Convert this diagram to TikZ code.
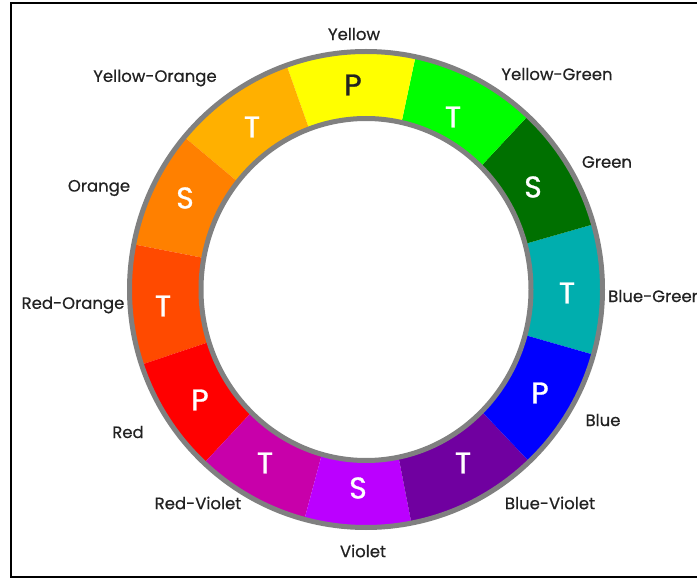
\documentclass[tikz,border=0pt]{standalone}
\usepackage{fontspec}
\setmainfont{Poppins}
\newfontfamily\letterfont[FakeBold=0.9]{Poppins}
\newfontfamily\namefont[FakeBold=0.5]{Poppins}
\definecolor{cBG}{HTML}{00AEAE}
\definecolor{cG}{HTML}{007000}
\definecolor{cYG}{HTML}{00FF00}
\definecolor{cY}{HTML}{FFFF00}
\definecolor{cYO}{HTML}{FFB000}
\definecolor{cO}{HTML}{FF8000}
\definecolor{cRO}{HTML}{FF4A00}
\definecolor{cR}{HTML}{FF0000}
\definecolor{cRV}{HTML}{C800AA}
\definecolor{cV}{HTML}{BB00FF}
\definecolor{cBV}{HTML}{7000A0}
\definecolor{cB}{HTML}{0000FF}
\definecolor{rim}{HTML}{808080}
\definecolor{ink}{HTML}{222222}
\begin{document}
\begin{tikzpicture}[x=1pt,y=1pt,
  letter/.style={text=white,font=\letterfont\fontsize{30}{32}\selectfont,inner sep=0pt},
  lbl/.style={text=ink,font=\namefont\fontsize{16.5}{18}\selectfont,inner sep=0pt},
  rimline/.style={draw=rim,line width=5pt}]
\useasboundingbox (0,0) rectangle (697,-580);
\clip (0,0) rectangle (697,-580);
\fill[white] (0,0) rectangle (697,-580);
% frame
\draw[line width=2pt] (11,-3) rectangle (705,-577);
\coordinate (C) at (366,-289.5);
% colour sectors of the ring
\begin{scope}
  \clip (C) ellipse [x radius=237, y radius=238.5];
  \foreach \a/\b/\c in {-16/16/cBG, 16/47/cG, 47/78/cYG, 78/109.5/cY,
      109.5/140/cYO, 140/169/cO, 169/198.5/cRO, 198.5/227/cR,
      227/255/cRV, 255/281/cV, 281/313.5/cBV, 313.5/344/cB}
    \fill[\c] (C) -- ++(\a:320) arc[start angle=\a, end angle=\b, radius=320] -- cycle;
\end{scope}
% white centre and grey rims
\fill[white] (C) ellipse [x radius=165, y radius=171];
\draw[rimline] (C) ellipse [x radius=236.5, y radius=238];
\draw[rimline] (C) ellipse [x radius=165, y radius=171];
% letters in the segments
\node[letter,text=ink] (pY) at (353,-85) {P};
\node[letter] (tYG) at (453,-117) {T};
\node[letter] (sG) at (533,-187) {S};
\node[letter] (tBG) at (567,-293) {T};
\node[letter] (pB) at (540,-393) {P};
\node[letter] (tBV) at (463,-463) {T};
\node[letter] (sV) at (358,-488) {S};
\node[letter] (tRV) at (265,-463) {T};
\node[letter] (pR) at (200,-400) {P};
\node[letter] (tRO) at (163,-306) {T};
\node[letter] (sO) at (185,-198) {S};
\node[letter] (tYO) at (252,-127) {T};
% colour names
\node[lbl] (lY) at (354,-34) {Yellow};
\node[lbl] (lYG) at (557,-74) {Yellow-Green};
\node[lbl] (lG) at (607,-162) {Green};
\node[lbl,anchor=west] (lBG) at (608,-296) {Blue-Green};
\node[lbl] (lB) at (603,-420) {Blue};
\node[lbl] (lBV) at (550,-503) {Blue-Violet};
\node[lbl] (lV) at (363,-551) {Violet};
\node[lbl] (lRV) at (198,-503) {Red-Violet};
\node[lbl] (lR) at (128,-432) {Red};
\node[lbl] (lRO) at (73,-305) {Red-Orange};
\node[lbl] (lO) at (99,-188) {Orange};
\node[lbl] (lYO) at (155,-78) {Yellow-Orange};
\end{tikzpicture}
\end{document}
